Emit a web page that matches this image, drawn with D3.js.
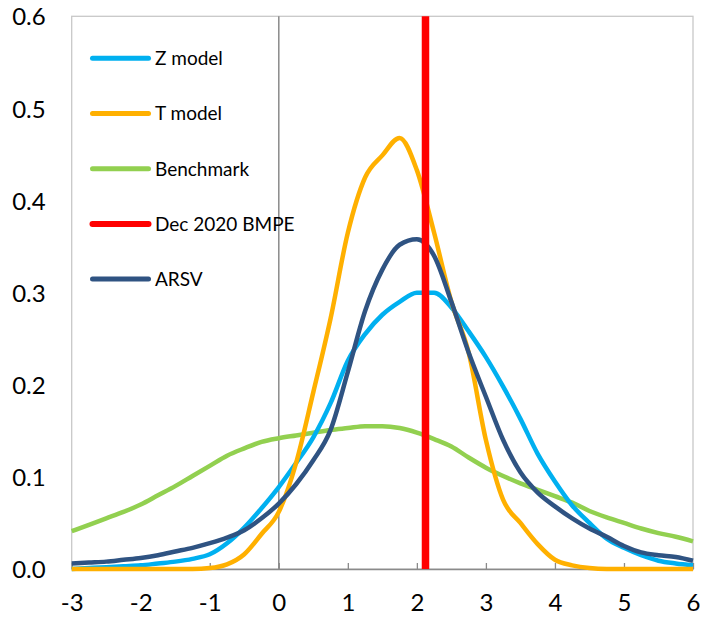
<!DOCTYPE html>
<html>
<head>
<meta charset="utf-8">
<script src="https://cdn.jsdelivr.net/npm/d3@7"></script>
<style>
  body { margin: 0; background: #fff; }
  svg { display: block; }
</style>
</head>
<body>
<svg id="chart" width="701" height="617"></svg>
<script>
// Data
const xValues = [-3, -2.75, -2.5, -2.25, -2, -1.75, -1.5, -1.25, -1, -0.75, -0.5, -0.25,
  0, 0.25, 0.5, 0.75, 1, 1.25, 1.5, 1.75, 2, 2.25, 2.5, 2.75, 3, 3.25, 3.5, 3.75,
  4, 4.25, 4.5, 4.75, 5, 5.25, 5.5, 5.75, 6];
const zModel = [0, 0.001, 0.002, 0.003, 0.004, 0.006, 0.008, 0.011, 0.016, 0.028, 0.045, 0.066,
  0.089, 0.115, 0.143, 0.180, 0.226, 0.255, 0.276, 0.290, 0.300, 0.300, 0.284, 0.258, 0.230, 0.198, 0.163, 0.125,
  0.095, 0.069, 0.050, 0.033, 0.023, 0.015, 0.009, 0.006, 0.004];
const tModel = [0, 0, 0, 0, 0, 0, 0, 0, 0.001, 0.005, 0.016, 0.038,
  0.062, 0.115, 0.192, 0.272, 0.365, 0.425, 0.449, 0.468, 0.433, 0.365, 0.290, 0.235, 0.140, 0.075, 0.050, 0.027,
  0.010, 0.004, 0.001, 0, 0, 0, 0, 0, 0];
const benchmark = [0.041, 0.048, 0.055, 0.062, 0.070, 0.080, 0.090, 0.101, 0.112, 0.123, 0.131, 0.138,
  0.142, 0.145, 0.148, 0.151, 0.153, 0.155, 0.155, 0.153, 0.148, 0.141, 0.133, 0.121, 0.110, 0.101, 0.093, 0.086,
  0.079, 0.072, 0.063, 0.056, 0.050, 0.044, 0.039, 0.035, 0.030];
const arsv = [0.006, 0.007, 0.008, 0.010, 0.012, 0.015, 0.019, 0.023, 0.028, 0.034, 0.042, 0.055,
  0.071, 0.092, 0.118, 0.151, 0.214, 0.280, 0.325, 0.352, 0.358, 0.340, 0.290, 0.235, 0.187, 0.140, 0.105, 0.083,
  0.068, 0.055, 0.044, 0.035, 0.025, 0.018, 0.015, 0.013, 0.009];
const bmpeValue = 2.125;
const xTicks = [-3, -2, -1, 0, 1, 2, 3, 4, 5, 6];
const yTicks = [0, 0.1, 0.2, 0.3, 0.4, 0.5, 0.6];

const seriesNames = ["Z model", "T model", "Benchmark", "Dec 2020 BMPE", "ARSV"];
const seriesColors = ["#00B0F0", "#FFB000", "#92D050", "#FF0000", "#2F5382"];

const fontFamily = "Lato, 'Open Sans', sans-serif";
const svg = d3.select("#chart");

// Plot area
const plotLeft = 71.7, plotRight = 693, plotTop = 16.3, plotBottom = 569;
const x = d3.scaleLinear().domain([-3, 6]).range([plotLeft, plotRight]);
const y = d3.scaleLinear().domain([0, 0.6]).range([plotBottom, plotTop]);

// Plot border
svg.append("rect")
  .attr("x", plotLeft)
  .attr("y", plotTop)
  .attr("width", plotRight - plotLeft)
  .attr("height", plotBottom - plotTop)
  .attr("fill", "none")
  .attr("stroke", "#c8c8c8")
  .attr("stroke-width", 1.3);

// Vertical line at x = 0
svg.append("line")
  .attr("x1", x(0))
  .attr("x2", x(0))
  .attr("y1", plotTop)
  .attr("y2", plotBottom)
  .attr("stroke", "#8a8a8a")
  .attr("stroke-width", 1.5);

// x axis with inside ticks
const xAxis = svg.append("g")
  .attr("transform", `translate(0,${plotBottom})`)
  .call(d3.axisBottom(x).tickValues(xTicks).tickSizeInner(-6).tickSizeOuter(0).tickFormat(d => String(d)));
xAxis.select(".domain").attr("stroke", "#8a8a8a").attr("stroke-width", 1.5);
xAxis.selectAll(".tick line").attr("stroke", "#8a8a8a").attr("stroke-width", 1.3);
xAxis.selectAll(".tick text")
  .attr("y", 42)
  .attr("dy", 0)
  .attr("fill", "#000")
  .attr("font-size", 24)
  .style("font-family", fontFamily);

// y axis labels only
const yAxis = svg.append("g")
  .attr("transform", `translate(${plotLeft},0)`)
  .call(d3.axisLeft(y).tickValues(yTicks).tickSize(0).tickFormat(d3.format(".1f")));
yAxis.select(".domain").remove();
yAxis.selectAll(".tick text")
  .attr("x", -26)
  .attr("dy", "0.36em")
  .attr("fill", "#000")
  .attr("font-size", 24)
  .style("font-family", fontFamily);

// Lines
const line = d3.line()
  .x((d, i) => x(xValues[i]))
  .y(d => y(d))
  .curve(d3.curveMonotoneX);

const drawOrder = [
  { values: benchmark, color: seriesColors[2] },
  { values: zModel, color: seriesColors[0] },
  { values: tModel, color: seriesColors[1] },
  { values: arsv, color: seriesColors[4] }
];
drawOrder.forEach(s => {
  svg.append("path")
    .datum(s.values)
    .attr("d", line)
    .attr("fill", "none")
    .attr("stroke", s.color)
    .attr("stroke-width", 4.5)
    .attr("stroke-linejoin", "round");
});

// BMPE vertical line
svg.append("line")
  .attr("x1", x(bmpeValue))
  .attr("x2", x(bmpeValue))
  .attr("y1", plotTop)
  .attr("y2", plotBottom)
  .attr("stroke", seriesColors[3])
  .attr("stroke-width", 7.5);

// Legend
const legend = svg.append("g");
seriesNames.forEach((name, i) => {
  const ly = 58.3 + i * 55.2;
  legend.append("line")
    .attr("x1", 92.5)
    .attr("x2", 148.5)
    .attr("y1", ly)
    .attr("y2", ly)
    .attr("stroke", seriesColors[i])
    .attr("stroke-width", i === 3 ? 6 : 5)
    .attr("stroke-linecap", "round");
  legend.append("text")
    .attr("x", 155)
    .attr("y", ly)
    .attr("dy", "0.36em")
    .attr("fill", "#000")
    .attr("font-size", 19)
    .text(name)
    .style("font-family", fontFamily);
});
</script>
</body>
</html>
